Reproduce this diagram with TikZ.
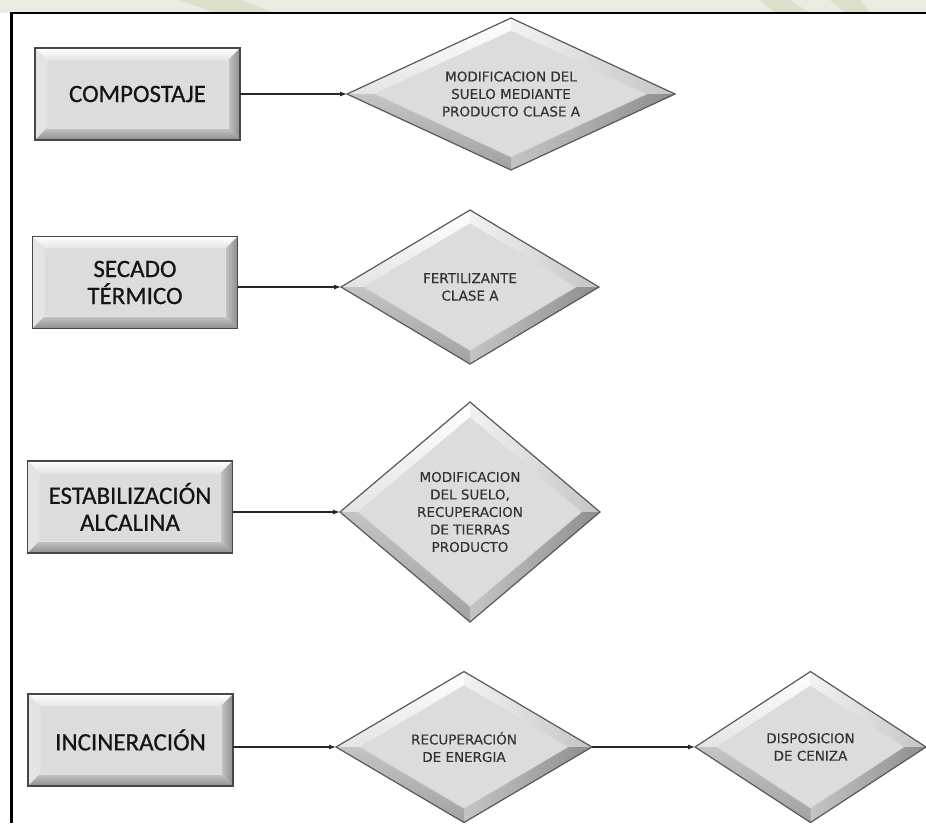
\documentclass[tikz,border=0pt]{standalone}
\usepackage{fontspec}
\newfontfamily\boxfont[FakeBold=0.6]{Carlito}
\newfontfamily\dfont[FakeBold=0.3]{DejaVu Sans}
\usetikzlibrary{shapes.geometric,arrows.meta,calc}
\definecolor{face}{HTML}{DCDCDC}
\definecolor{bvlight}{HTML}{F2F2F2}
\definecolor{bvleft}{HTML}{E4E4E4}
\definecolor{bvmid}{HTML}{C4C4C4}
\definecolor{bvdark}{HTML}{8E8E8E}
\definecolor{bvbot}{HTML}{A2A2A2}
\definecolor{wmark}{HTML}{ECEBE1}
\definecolor{wmark2}{HTML}{DDDFCB}
\newcommand\boxbevel{%
  \coordinate (q1) at (path picture bounding box.south west);
  \coordinate (q2) at (path picture bounding box.south east);
  \coordinate (q3) at (path picture bounding box.north east);
  \coordinate (q4) at (path picture bounding box.north west);
  \coordinate (r1) at ($(q1)+(12pt,12pt)$);
  \coordinate (r2) at ($(q2)+(-12pt,12pt)$);
  \coordinate (r3) at ($(q3)+(-12pt,-12pt)$);
  \coordinate (r4) at ($(q4)+(12pt,-12pt)$);
  \shade[top color=white, bottom color=bvleft] (q4) -- (q3) -- (r3) -- (r4) -- cycle;
  \fill[bvleft] (q1) -- (q4) -- (r4) -- (r1) -- cycle;
  \shade[left color=bvmid, right color=bvdark] (q2) -- (q3) -- (r3) -- (r2) -- cycle;
  \shade[top color=bvmid, bottom color=bvdark] (q1) -- (q2) -- (r2) -- (r1) -- cycle;
  \draw[line width=0.8pt, draw=black!12] (r1) rectangle (r3);
}
\newcommand\diabevel[1]{%
  \coordinate (pc) at (path picture bounding box.center);
  \coordinate (pn) at (path picture bounding box.north);
  \coordinate (pe) at (path picture bounding box.east);
  \coordinate (ps) at (path picture bounding box.south);
  \coordinate (pw) at (path picture bounding box.west);
  \coordinate (in) at ($(pc)!#1!(pn)$);
  \coordinate (ie) at ($(pc)!#1!(pe)$);
  \coordinate (is) at ($(pc)!#1!(ps)$);
  \coordinate (iw) at ($(pc)!#1!(pw)$);
  \shade[top color=white, bottom color=bvleft] (pw) -- (pn) -- (in) -- (iw) -- cycle;
  \shade[left color=bvlight, right color=bvmid] (pn) -- (pe) -- (ie) -- (in) -- cycle;
  \shade[left color=bvmid, right color=bvdark] (pe) -- (ps) -- (is) -- (ie) -- cycle;
  \shade[top color=bvmid, bottom color=bvbot] (ps) -- (pw) -- (iw) -- (is) -- cycle;
  \draw[line width=0.7pt, draw=black!15] (in) -- (ie) -- (is) -- (iw) -- cycle;
}
\tikzset{
  procbox/.style={rectangle, minimum width=205pt, minimum height=92pt,
    inner sep=0pt, outer sep=0pt, align=center, fill=face,
    draw=black!72, line width=1.6pt, text=black!92,
    font={\boxfont\fontsize{25}{27}\selectfont},
    path picture={\boxbevel}},
  resnode/.style={diamond, aspect=1.6, inner sep=0pt, outer sep=0pt,
    align=center, fill=face, draw=black!65, line width=1.2pt, text=black!80,
    font={\dfont\fontsize{13.5}{17.5}\selectfont},
    path picture={\diabevel{#1}}},
  conn/.style={draw=black!85, line width=1.1pt, -{Latex[length=7pt,width=5pt]}},
  frameline/.style={draw=black, line width=2.2pt}
}
\begin{document}
\begin{tikzpicture}[x=1pt,y=-1pt]
\useasboundingbox (0,0) rectangle (926,823);
\fill[white] (0,0) rectangle (926,823);
\fill[wmark] (0,0) rectangle (926,13);
\fill[wmark2] (180,0) -- (240,0) -- (275,13) -- (215,13) -- cycle;
\fill[wmark2] (760,0) -- (790,0) -- (810,13) -- (775,13) -- cycle;
\fill[wmark2] (830,0) -- (860,0) -- (870,13) -- (845,13) -- cycle;
\coordinate (fa) at (11.5,823);
\coordinate (fb) at (11.5,13);
\coordinate (fc) at (926,13);
\draw[frameline] (fa) -- (fb) -- (fc);

% row 1
\node[procbox] (b1) at (137.5,94) {COMPOSTAJE};
\node[resnode=0.826, minimum width=328pt, minimum height=152pt, aspect=2.2] (d1) at (511,94)
  {MODIFICACION DEL\\SUELO MEDIANTE\\PRODUCTO CLASE A};
\draw[conn] (b1.east |- d1.west) -- (d1.west);

% row 2
\node[procbox] (b2) at (135,282.5) {SECADO\\TÉRMICO};
\node[resnode=0.82, minimum width=258pt, minimum height=154pt] (d2) at (470,287)
  {FERTILIZANTE\\CLASE A};
\draw[conn] (b2.east |- d2.west) -- (d2.west);

% row 3
\node[procbox] (b3) at (130,507) {ESTABILIZACIÓN\\ALCALINA};
\node[resnode=0.857, minimum width=260pt, minimum height=220pt, aspect=1.2] (d3) at (470,512)
  {MODIFICACION\\DEL SUELO,\\RECUPERACION\\DE TIERRAS\\PRODUCTO};
\draw[conn] (b3.east |- d3.west) -- (d3.west);

% row 4
\node[procbox] (b4) at (130.5,740) {INCINERACIÓN};
\node[resnode=0.81, minimum width=256pt, minimum height=151pt] (d4) at (464,747)
  {RECUPERACIÓN\\DE ENERGIA};
\node[resnode=0.807, minimum width=231pt, minimum height=151pt] (d5) at (810.5,747)
  {DISPOSICION\\DE CENIZA};
\draw[conn] (b4.east |- d4.west) -- (d4.west);
\draw[conn] (d4.east) -- (d5.west);
\end{tikzpicture}
\end{document}
